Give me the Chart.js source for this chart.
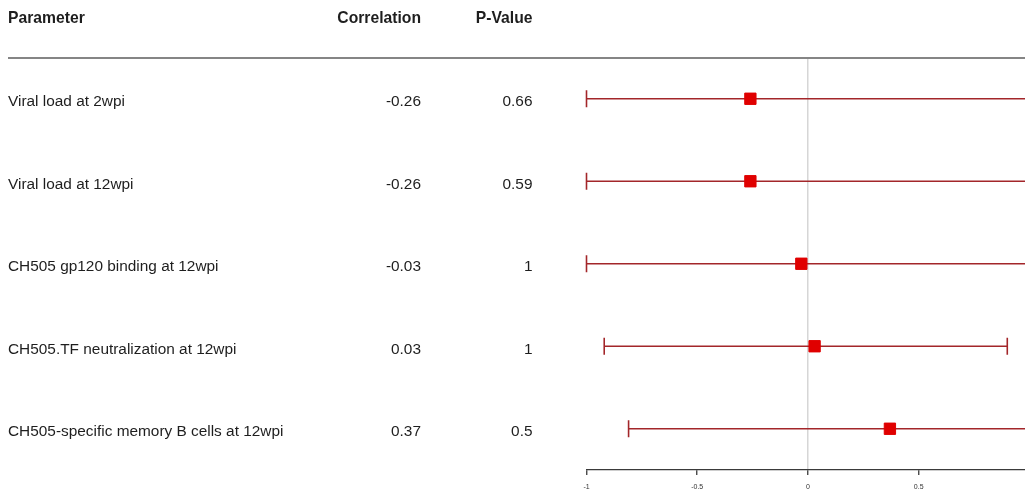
<!DOCTYPE html>
<html>
<head>
<meta charset="utf-8">
<title>Correlation forest plot</title>
<script src="https://cdn.jsdelivr.net/npm/chart.js@4/dist/chart.umd.min.js"></script>
<style>
  html, body { margin: 0; padding: 0; background: #ffffff; }
  #wrap { position: relative; width: 1025px; height: 491px; overflow: hidden;
          font-family: "Liberation Sans", Arial, sans-serif; color: #1e1e1e; }
  #plot { position: absolute; left: 0; top: 0; }
  .cell { position: absolute; white-space: nowrap; font-size: 15.4px; line-height: normal; }
  .head { font-weight: bold; font-size: 15.7px; }
  .left { left: 8px; }
  .corr { right: calc(1025px - 421px); text-align: right; }
  .pval { right: calc(1025px - 532.5px); text-align: right; }
  #rule { position: absolute; left: 8px; right: 0; height: 2px; background: #858585; }
</style>
</head>
<body>
<div id="wrap">
  <canvas id="plot" width="1025" height="491"></canvas>
  <div id="rule"></div>
  <div class="cell head left" style="top:9px">Parameter</div>
  <div class="cell head corr" style="top:9px">Correlation</div>
  <div class="cell head pval" style="top:9px">P-Value</div>
</div>
<script>
// Parameters tested, their correlation coefficients, p-values and 95% CI bounds
const parameters = [
  'Viral load at 2wpi',
  'Viral load at 12wpi',
  'CH505 gp120 binding at 12wpi',
  'CH505.TF neutralization at 12wpi',
  'CH505-specific memory B cells at 12wpi'
];
const correlations = [-0.26, -0.26, -0.03, 0.03, 0.37];
const pValues = [0.66, 0.59, 1, 1, 0.5];
const ciLower = [-1, -1, -1, -0.92, -0.81];
const ciUpper = [1, 1, 1, 0.9, 1];
const xTickValues = [-1, -0.5, 0, 0.5];

const rowIndex = parameters.map((_, i) => i + 1);

const lineColor = '#a3262a';
const markColor = '#e00000';

// One dataset per confidence interval segment
const ciDatasets = rowIndex.map((row, i) => ({
  type: 'line',
  data: [{ x: ciLower[i], y: row }, { x: ciUpper[i], y: row }],
  borderColor: lineColor,
  borderWidth: 1.6,
  pointRadius: 0,
  fill: false,
  order: 3
}));

// Whisker caps at both CI ends
const capDataset = {
  type: 'scatter',
  data: rowIndex.flatMap((row, i) => [{ x: ciLower[i], y: row }, { x: ciUpper[i], y: row }]),
  pointStyle: 'line',
  rotation: 90,
  pointRadius: 8.5,
  borderColor: lineColor,
  borderWidth: 1.6,
  clip: false,
  order: 2
};

// Point estimates
const pointDataset = {
  type: 'scatter',
  data: rowIndex.map((row, i) => ({ x: correlations[i], y: row })),
  pointStyle: 'rect',
  pointRadius: 8,
  backgroundColor: markColor,
  borderColor: markColor,
  borderWidth: 1,
  order: 1
};

const chart = new Chart(document.getElementById('plot'), {
  type: 'scatter',
  data: { datasets: [...ciDatasets, capDataset, pointDataset] },
  options: {
    responsive: false,
    animation: false,
    events: [],
    layout: { autoPadding: false, padding: { left: 586.5, top: 57.5, right: 0, bottom: 0 } },
    plugins: { legend: { display: false }, tooltip: { enabled: false } },
    scales: {
      x: {
        type: 'linear',
        min: -1,
        max: 0.98,
        afterBuildTicks: (scale) => { scale.ticks = xTickValues.map(v => ({ value: v })); },
        afterFit: (scale) => { scale.height = 21; },
        border: { display: true, color: '#3a3a3a', width: 1.3 },
        grid: {
          drawOnChartArea: true,
          color: (ctx) => (ctx.tick && ctx.tick.value === 0) ? '#d6d6d6' : 'rgba(0,0,0,0)',
          lineWidth: 1.5,
          tickColor: '#3a3a3a',
          tickWidth: 1.3,
          tickLength: 5
        },
        ticks: {
          autoSkip: false,
          maxRotation: 0,
          padding: 8,
          color: '#333333',
          font: { family: '"Liberation Sans", Arial, sans-serif', size: 7 },
          callback: (v) => String(v)
        }
      },
      y: {
        type: 'linear',
        display: false,
        reverse: true,
        min: 0.5,
        max: 5.5
      }
    }
  }
});

// Table text placed on the same rows as the plotted estimates
const wrap = document.getElementById('wrap');
const yScale = chart.scales.y;
document.getElementById('rule').style.top = (chart.chartArea.top - 1) + 'px';
rowIndex.forEach((row, i) => {
  const top = (yScale.getPixelForValue(row) - 6.5) + 'px';
  const cells = [
    ['left', parameters[i]],
    ['corr', String(correlations[i])],
    ['pval', String(pValues[i])]
  ];
  cells.forEach(([cls, text]) => {
    const d = document.createElement('div');
    d.className = 'cell ' + cls;
    d.style.top = top;
    d.textContent = text;
    wrap.appendChild(d);
  });
});
</script>
</body>
</html>
